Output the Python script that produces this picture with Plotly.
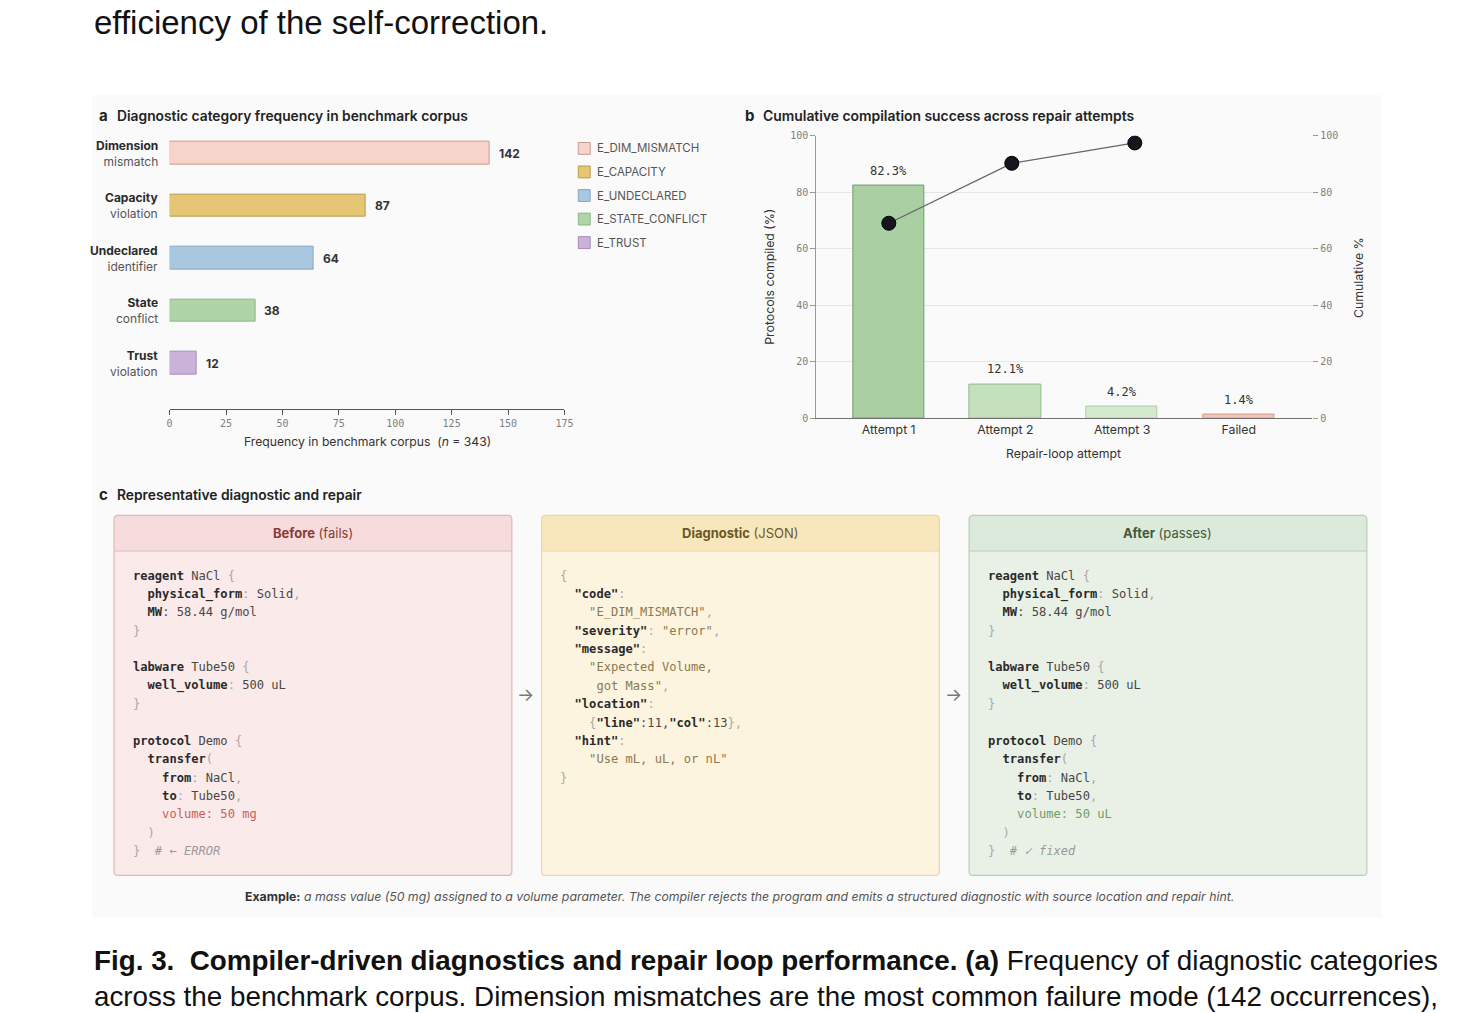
import plotly.graph_objects as go

W, H = 1480, 1013


def X(px):
    return px / W


def Y(py):
    return 1 - py / H


# ---------------- data ----------------
# panel a
cat_bold = ["Dimension", "Capacity", "Undeclared", "State", "Trust"]
cat_light = ["mismatch", "violation", "identifier", "conflict", "violation"]
freq = [142, 87, 64, 38, 12]
codes = ["E_DIM_MISMATCH", "E_CAPACITY", "E_UNDECLARED", "E_STATE_CONFLICT", "E_TRUST"]
freq_ticks = [0, 25, 50, 75, 100, 125, 150, 175]
n_total = 343

# panel b
attempts = ["Attempt 1", "Attempt 2", "Attempt 3", "Failed"]
compiled = [82.3, 12.1, 4.2, 1.4]
cum_steps = [0, 1, 2]
cumulative = [69.0, 90.2, 97.4]
pct_ticks = [0, 20, 40, 60, 80, 100]

# styles
a_fill = ["#f6d4cc", "#e5c674", "#a9c8e0", "#aed4a8", "#cab2d9"]
a_line = ["#c99a90", "#b99b4c", "#88a8c4", "#8cb688", "#a68bb9"]
b_fill = ["#aacfa3", "#c4e0bd", "#d6eacf", "#f6c5b9"]
b_line = ["#6f9c69", "#93bb8c", "#abcca4", "#d39584"]

MONO = "DejaVu Sans Mono"
SANS = "Inter"

fig = go.Figure()

# ---------------- panel a bars ----------------
cat_idx = list(range(len(freq)))
fig.add_trace(go.Bar(
    x=freq, y=cat_idx, orientation="h", width=0.43,
    marker=dict(color=a_fill, line=dict(color=a_line, width=1)),
    xaxis="x", yaxis="y", showlegend=False, hoverinfo="skip",
))

# ---------------- panel b bars + line ----------------
fig.add_trace(go.Bar(
    x=attempts, y=compiled, width=0.61,
    marker=dict(color=b_fill, line=dict(color=b_line, width=1)),
    xaxis="x2", yaxis="y2", showlegend=False, hoverinfo="skip",
))
fig.add_trace(go.Scatter(
    x=cum_steps, y=cumulative, mode="lines+markers",
    line=dict(color="#666666", width=1.3),
    marker=dict(size=14, color="#15151f", line=dict(color="#000000", width=1)),
    xaxis="x3", yaxis="y3", showlegend=False, hoverinfo="skip",
))

# axis pixel layout
a_x0, a_x1, a_top, a_bot = 168, 566, 125, 407
row0, row_step = 149, 53
ya_top = (a_top - row0) / row_step
ya_bot = (a_bot - row0) / row_step

b_x0, b_x1, b_top, b_bot = 820, 1320, 131, 417

tick_font = dict(family=MONO, size=10, color="#808080")

fig.update_layout(
    width=W, height=H, autosize=False,
    margin=dict(l=0, r=0, t=0, b=0),
    paper_bgcolor="white", plot_bgcolor="rgba(0,0,0,0)",
    bargap=0,
    xaxis=dict(domain=[X(a_x0), X(a_x1)], range=[0, 175], tickvals=freq_ticks,
               showline=True, linecolor="#555555", linewidth=1, ticks="outside",
               ticklen=5, tickcolor="#555555", tickfont=tick_font, showgrid=False,
               zeroline=False, anchor="y", fixedrange=True),
    yaxis=dict(domain=[Y(a_bot), Y(a_top)], range=[ya_bot, ya_top], visible=False,
               showgrid=False, zeroline=False, anchor="x", fixedrange=True),
    xaxis2=dict(domain=[X(b_x0), X(b_x1)], range=[-0.62, 3.63], type="category",
                showline=True, linecolor="#707070", linewidth=1, ticks="",
                tickfont=dict(family=SANS, size=12.3, color="#333333"),
                showgrid=False, zeroline=False, anchor="y2", fixedrange=True),
    yaxis2=dict(domain=[Y(b_bot), Y(b_top)], range=[0, 100], tickvals=pct_ticks,
                showline=True, linecolor="#999999", linewidth=1, ticks="outside",
                ticklen=5, tickcolor="#999999", tickfont=tick_font,
                showgrid=True, gridcolor="#e6e6e6", gridwidth=1,
                zeroline=False, anchor="x2", fixedrange=True),
    xaxis3=dict(domain=[X(b_x0), X(b_x1)], range=[-0.589, 3.443], visible=False,
                overlaying="x2", anchor="y3", fixedrange=True),
    yaxis3=dict(domain=[Y(b_bot), Y(b_top)], range=[0, 100], tickvals=pct_ticks,
                overlaying="y2", side="right", anchor="x2", showline=False,
                ticks="outside", ticklen=5, tickcolor="#999999", tickfont=tick_font,
                showgrid=False, zeroline=False, fixedrange=True),
)

shapes = []
ann = []

# figure background
shapes.append(dict(type="rect", xref="paper", yref="paper", x0=X(90), x1=X(1390),
                   y0=Y(922), y1=Y(90), fillcolor="#fafafa", line=dict(width=0),
                   layer="below"))


def text(x, y, s, size=12, color="#333", family=SANS, xanchor="left",
         yanchor="middle", angle=0, align="left", weight=None):
    f = dict(family=family, size=size, color=color)
    if weight:
        f["weight"] = weight
    ann.append(dict(x=X(x), y=Y(y), xref="paper", yref="paper", text=s,
                    showarrow=False, xanchor=xanchor, yanchor=yanchor,
                    textangle=angle, align=align, font=f))


# page text
text(90, 17, "efficiency of the self-correction.", size=33, color="#111",
     family="Liberation Sans")
text(90, 965, "<b>Fig. 3.  Compiler-driven diagnostics and repair loop performance. (a)</b>"
     " Frequency of diagnostic categories", size=27.8, color="#111",
     family="Liberation Sans")
text(90, 1001, "across the benchmark corpus. Dimension mismatches are the most common "
     "failure mode (142 occurrences),", size=27.8, color="#111",
     family="Liberation Sans")

# panel titles
text(95, 111, "<b>a</b>", size=15, color="#222")
text(113, 111, "Diagnostic category frequency in benchmark corpus", size=13.8,
     color="#222", weight=600)
text(746, 111, "<b>b</b>", size=15, color="#222")
text(764, 111, "Cumulative compilation success across repair attempts", size=13.9,
     color="#222", weight=600)
text(95, 494, "<b>c</b>", size=15, color="#222")
text(113, 494, "Representative diagnostic and repair", size=13.8, color="#222",
     weight=600)

# panel a category labels and values
for i in cat_idx:
    ann.append(dict(x=X(158), y=i, xref="paper", yref="y",
                    text=f"<b>{cat_bold[i]}</b><br><span style='color:#555'>{cat_light[i]}</span>",
                    showarrow=False, xanchor="right", yanchor="middle", align="right",
                    font=dict(family=SANS, size=12, color="#2a2a2a")))
    ann.append(dict(x=freq[i], y=i, xref="x", yref="y", text=f"<b>{freq[i]}</b>",
                    showarrow=False, xanchor="left", yanchor="middle", xshift=7,
                    font=dict(family=SANS, size=12, color="#333")))

text(367, 440, f"Frequency in benchmark corpus  (<i>n</i> = {n_total})", size=12.2,
     color="#333", xanchor="center")

# panel a legend
leg_y0, leg_step = 144, 23.8
for i, c in enumerate(codes):
    yc = leg_y0 + i * leg_step
    shapes.append(dict(type="rect", xref="paper", yref="paper", x0=X(580), x1=X(592),
                       y0=Y(yc + 6), y1=Y(yc - 6), fillcolor=a_fill[i],
                       line=dict(color=a_line[i], width=1)))
    text(597, yc, c, size=11.5, color="#555")

# panel b labels
for i, a in enumerate(attempts):
    ann.append(dict(x=a, y=compiled[i], xref="x2", yref="y2", text=f"{compiled[i]:.1f}%",
                    showarrow=False, xanchor="center", yanchor="middle", yshift=15,
                    font=dict(family=MONO, size=12, color="#333")))
text(772, 274, "Protocols compiled (%)", size=12.3, color="#333", xanchor="center",
     angle=-90)
text(1366, 274, "Cumulative %", size=12.3, color="#333", xanchor="center", angle=-90)
text(1069, 452, "Repair-loop attempt", size=12.3, color="#333", xanchor="center")

# ---------------- panel c ----------------
def rpath(x0, y0, x1, y1, r=4, top=True, bottom=True):
    rx, ry = r / W, r / H
    a0, a1 = X(x0), X(x1)
    b0, b1 = Y(y0), Y(y1)  # b0 top (larger), b1 bottom
    p = []
    if top:
        p.append(f"M {a0 + rx},{b0} L {a1 - rx},{b0} Q {a1},{b0} {a1},{b0 - ry}")
    else:
        p.append(f"M {a0},{b0} L {a1},{b0}")
    if bottom:
        p.append(f"L {a1},{b1 + ry} Q {a1},{b1} {a1 - rx},{b1} L {a0 + rx},{b1} "
                 f"Q {a0},{b1} {a0},{b1 + ry}")
    else:
        p.append(f"L {a1},{b1} L {a0},{b1}")
    if top:
        p.append(f"L {a0},{b0 - ry} Q {a0},{b0} {a0 + rx},{b0} Z")
    else:
        p.append("Z")
    return " ".join(p)


boxes = [
    dict(x0=112, x1=513, body="#fbeaea", head="#f6dcdc", border="#e2b8b6",
         title="<b>Before</b> (fails)", tcolor="#8a3b36"),
    dict(x0=543, x1=944, body="#fdf4df", head="#f8e7bd", border="#ebd7a2",
         title="<b>Diagnostic</b> (JSON)", tcolor="#6b5826"),
    dict(x0=974, x1=1375, body="#e9f1e6", head="#dceadb", border="#b9cfb3",
         title="<b>After</b> (passes)", tcolor="#3e5a3a"),
]
box_top, box_bot, head_bot = 515, 879, 551
for b in boxes:
    shapes.append(dict(type="path", xref="paper", yref="paper",
                       path=rpath(b["x0"], box_top, b["x1"], box_bot),
                       fillcolor=b["body"], line=dict(width=0)))
    shapes.append(dict(type="path", xref="paper", yref="paper",
                       path=rpath(b["x0"], box_top, b["x1"], head_bot, bottom=False),
                       fillcolor=b["head"], line=dict(width=0)))
    shapes.append(dict(type="line", xref="paper", yref="paper", x0=X(b["x0"]),
                       x1=X(b["x1"]), y0=Y(head_bot), y1=Y(head_bot),
                       line=dict(color=b["border"], width=1)))
    shapes.append(dict(type="path", xref="paper", yref="paper",
                       path=rpath(b["x0"], box_top, b["x1"], box_bot),
                       fillcolor="rgba(0,0,0,0)", line=dict(color=b["border"], width=1.2)))
    text((b["x0"] + b["x1"]) / 2, 533, b["title"], size=13, color=b["tcolor"],
         xanchor="center")

before_code = [
    [("reagent", "k"), (" NaCl ", "n"), ("{", "p")],
    [("  physical_form", "k"), (": ", "p"), ("Solid", "n"), (",", "p")],
    [("  MW", "k"), (": ", "n"), ("58.44 g/mol", "n")],
    [("}", "p")],
    [],
    [("labware", "k"), (" Tube50 ", "n"), ("{", "p")],
    [("  well_volume", "k"), (": ", "p"), ("500 uL", "n")],
    [("}", "p")],
    [],
    [("protocol", "k"), (" Demo ", "n"), ("{", "p")],
    [("  transfer", "k"), ("(", "p")],
    [("    from", "k"), (": ", "p"), ("NaCl", "n"), (",", "p")],
    [("    to", "k"), (": ", "p"), ("Tube50", "n"), (",", "p")],
    [("    volume: 50 mg", "e")],
    [("  )", "p")],
    [("}", "p"), ("  # ← ERROR", "c")],
]
json_code = [
    [("{", "p")],
    [('  "code"', "k"), (":", "p")],
    [('    "E_DIM_MISMATCH"', "s"), (",", "p")],
    [('  "severity"', "k"), (": ", "p"), ('"error"', "s"), (",", "p")],
    [('  "message"', "k"), (":", "p")],
    [('    "Expected Volume,', "s")],
    [('     got Mass"', "s"), (",", "p")],
    [('  "location"', "k"), (":", "p")],
    [("    {", "p"), ('"line"', "k"), (":11,", "n"), ('"col"', "k"), (":13", "n"),
     ("},", "p")],
    [('  "hint"', "k"), (":", "p")],
    [('    "Use mL, uL, or nL"', "s")],
    [("}", "p")],
]
after_code = [line if line != [("    volume: 50 mg", "e")] else [("    volume: 50 uL", "g")]
              for line in before_code]
after_code[-1] = [("}", "p"), ("  # ✓ fixed", "c")]

styles = {
    "k": ("#2a2a2a", "b"), "n": ("#474747", None), "p": ("#a8a8a8", None),
    "s": ("#8a7a4e", None), "e": ("#c8605a", None), "g": ("#6f9c64", None),
    "c": ("#9a9a9a", "i"),
}


def render(line):
    out = []
    for t, st in line:
        col, tag = styles[st]
        t = t.replace(" ", "\u00a0")
        s = f"<span style='color:{col}'>{t}</span>"
        if tag:
            s = f"<{tag}>{s}</{tag}>"
        out.append(s)
    return "".join(out)


code_y0, code_dy = 576, 18.55
for x0, lines in [(129, before_code), (560, json_code), (991, after_code)]:
    for j, line in enumerate(lines):
        if not line:
            continue
        text(x0, code_y0 + j * code_dy, render(line), size=12.1, family=MONO)

text(527, 696, "→", size=18, color="#777", xanchor="center")
text(958, 696, "→", size=18, color="#777", xanchor="center")

text(743, 900, "<b>Example:</b> <i><span style='color:#555'>a mass value (50 mg) assigned to a "
     "volume parameter. The compiler rejects the program and emits a structured "
     "diagnostic with source location and repair hint.</span></i>", size=12.3,
     color="#333", xanchor="center")

fig.update_layout(shapes=shapes, annotations=ann)
fig.write_html("out.html")
